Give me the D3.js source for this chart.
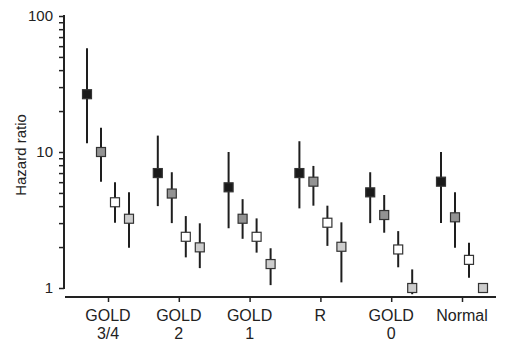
<!DOCTYPE html>
<html>
<head>
<meta charset="utf-8">
<script src="https://cdn.jsdelivr.net/npm/d3@7"></script>
<style>
  html, body { margin: 0; padding: 0; background: #fff; }
  svg { display: block; font-family: "Liberation Sans", Arial, sans-serif; }
</style>
</head>
<body>
<svg id="chart" width="516" height="355"></svg>
<script>
// ---- data ----
const categories = ["GOLD 3/4", "GOLD 2", "GOLD 1", "R", "GOLD 0", "Normal"];
const labelLine1 = ["GOLD", "GOLD", "GOLD", "R", "GOLD", "Normal"];
const labelLine2 = ["3/4", "2", "1", "", "0", ""];
const seriesNames = ["s1", "s2", "s3", "s4"];
const seriesFill = ["#1a1a1a", "#939393", "#ffffff", "#cdcdcd"];

const s1HR = [26.6, 7.0, 5.5, 7.0, 5.05, 6.05];
const s1Lo = [11.6, 4.0, 2.75, 3.85, 3.0, 3.0];
const s1Hi = [58, 13.2, 10, 12, 7.1, 10];

const s2HR = [10, 4.95, 3.23, 6.05, 3.44, 3.31];
const s2Lo = [6.05, 3.0, 2.3, 4.03, 2.55, 1.98];
const s2Hi = [15.1, 7.1, 4.5, 7.9, 4.83, 5.05];

const s3HR = [4.27, 2.38, 2.38, 3.02, 1.92, 1.61];
const s3Lo = [3.02, 1.68, 1.82, 2.04, 1.42, 1.19];
const s3Hi = [6.0, 3.38, 3.25, 4.03, 2.62, 2.15];

const s4HR = [3.23, 1.99, 1.5, 2.01, 1.0, 1.0];
const s4Lo = [1.98, 1.4, 1.05, 1.1, 0.9, null];
const s4Hi = [5.05, 2.99, 1.96, 3.04, 1.37, null];

const majorTicks = [1, 10, 100];
const minorTicks = [2, 3, 4, 5, 6, 7, 8, 9, 20, 30, 40, 50, 60, 70, 80, 90];
const yTitle = "Hazard ratio";

// ---- build ----
const hr = [s1HR, s2HR, s3HR, s4HR];
const lo = [s1Lo, s2Lo, s3Lo, s4Lo];
const hi = [s1Hi, s2Hi, s3Hi, s4Hi];
const points = [];
seriesNames.forEach((s, si) => {
  categories.forEach((c, ci) => {
    points.push({ s, si, c, v: hr[si][ci], lo: lo[si][ci], hi: hi[si][ci] });
  });
});

const svg = d3.select("#chart");
const y = d3.scaleLog().domain([1, 100]).range([288, 16]);
const x = d3.scalePoint().domain(categories).range([108, 462]);
const xs = d3.scalePoint().domain(seriesNames).range([-21, 21]);
const axisX0 = 64;

// y axis
const yAxisG = svg.append("g").attr("transform", `translate(${axisX0},0)`);
yAxisG.call(d3.axisLeft(y).tickValues(majorTicks).tickSize(5).tickPadding(6)
  .tickFormat(d3.format("d")));
yAxisG.call(g => g.select(".domain").remove());
yAxisG.append("line").attr("x1", 0).attr("x2", 0).attr("y1", y(100) - 1).attr("y2", y(1) + 1)
  .attr("stroke", "#222").attr("stroke-width", 2);
yAxisG.selectAll(".tick line").attr("stroke", "#222").attr("stroke-width", 1.5);
yAxisG.selectAll(".tick text").attr("font-size", 15).attr("fill", "#222")
  .attr("font-family", '"Liberation Sans", Arial, sans-serif');
const minorG = svg.append("g").attr("transform", `translate(${axisX0},0)`);
minorG.call(d3.axisLeft(y).tickValues(minorTicks).tickSize(5).tickFormat(""));
minorG.call(g => g.select(".domain").remove());
minorG.selectAll(".tick line").attr("stroke", "#222").attr("stroke-width", 1.5);

// x axis
const xAxisY = 297;
const xAxisG = svg.append("g").attr("transform", `translate(0,${xAxisY})`);
xAxisG.call(d3.axisBottom(x).tickSize(5).tickFormat(""));
xAxisG.call(g => g.select(".domain").remove());
xAxisG.selectAll(".tick line").attr("stroke", "#222").attr("stroke-width", 1.5);
xAxisG.append("line").attr("x1", 65).attr("x2", 496).attr("y1", 0).attr("y2", 0)
  .attr("stroke", "#222").attr("stroke-width", 2);
const labT = xAxisG.selectAll("text.lab").data(categories).enter().append("text")
  .attr("class", "lab").attr("text-anchor", "middle").attr("font-size", 16).attr("fill", "#222")
  .attr("transform", d => `translate(${x(d)},0)`);
labT.append("tspan").attr("x", 0).attr("y", 23.5).text((d, i) => labelLine1[i]);
labT.filter((d, i) => labelLine2[i] !== "").append("tspan").attr("x", 0).attr("y", 41.8)
  .text(d => labelLine2[categories.indexOf(d)]);

// y title
svg.append("text").attr("transform", "translate(26,155) rotate(-90)")
  .attr("text-anchor", "middle").attr("font-size", 15).attr("fill", "#222").text(yTitle);

// error bars
svg.append("g").selectAll("line").data(points.filter(p => p.lo != null)).enter().append("line")
  .attr("x1", p => x(p.c) + xs(p.s)).attr("x2", p => x(p.c) + xs(p.s))
  .attr("y1", p => y(p.hi)).attr("y2", p => y(p.lo))
  .attr("stroke", "#1e1e1e").attr("stroke-width", 2);

// markers
const sz = 9;
svg.append("g").selectAll("rect").data(points).enter().append("rect")
  .attr("x", p => x(p.c) + xs(p.s) - sz / 2).attr("y", p => y(p.v) - sz / 2)
  .attr("width", sz).attr("height", sz)
  .attr("fill", p => seriesFill[p.si]).attr("stroke", "#333").attr("stroke-width", 1.2);
</script>
</body>
</html>
